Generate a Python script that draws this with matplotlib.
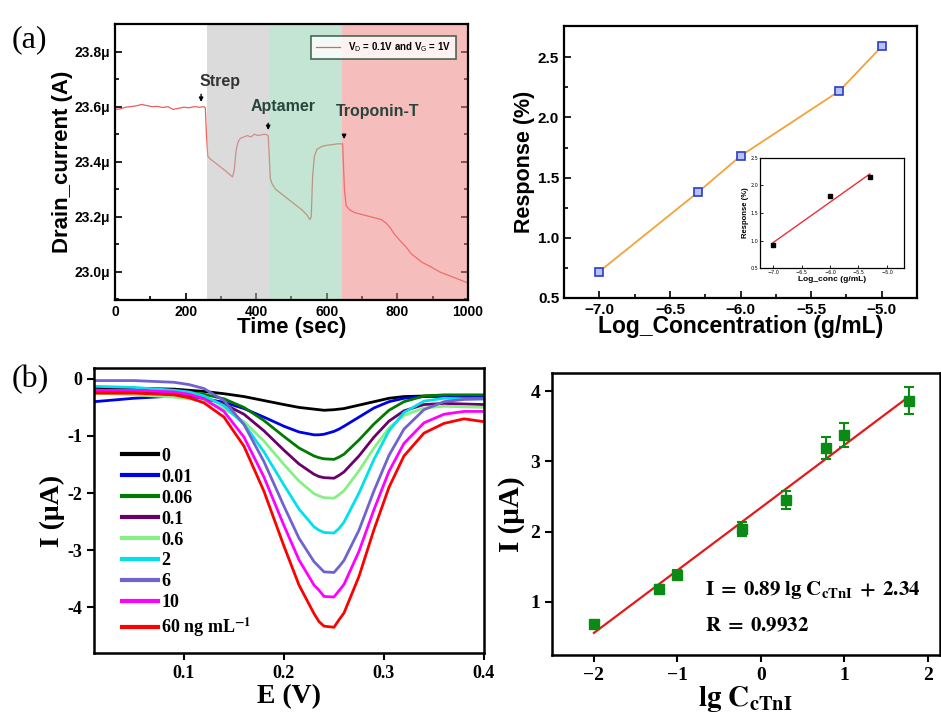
import numpy as np
import matplotlib
matplotlib.use("Agg")
import matplotlib.pyplot as plt

# ---------------- data ----------------
# (a) left: drain current vs time (in uA)
time_s = [0, 15, 30, 45, 60, 75, 90, 105, 120, 135, 150, 165, 180, 195, 210, 225, 240, 252, 256, 259,
          263, 270, 285, 300, 315, 328, 333, 338, 343, 348, 355, 365, 375, 385, 395, 405, 415, 425, 434,
          437, 440, 445, 455, 470, 485, 500, 515, 530, 545, 552, 556, 560, 565, 572, 585, 600, 615, 630,
          645, 647, 650, 655, 665, 680, 695, 710, 725, 740, 755, 770, 780, 790, 800, 810, 825, 840, 855,
          870, 885, 900, 920, 940, 960, 980, 1000]
drain_ua = [23.590, 23.592, 23.598, 23.600, 23.603, 23.608, 23.604, 23.600, 23.601, 23.597, 23.600,
            23.590, 23.594, 23.598, 23.596, 23.600, 23.598, 23.600, 23.595, 23.50, 23.42, 23.41, 23.395,
            23.38, 23.365, 23.350, 23.345, 23.37, 23.44, 23.47, 23.485, 23.49, 23.495, 23.490, 23.500,
            23.495, 23.498, 23.500, 23.495, 23.42, 23.34, 23.32, 23.30, 23.285, 23.27, 23.255, 23.24,
            23.225, 23.205, 23.190, 23.20, 23.35, 23.42, 23.445, 23.455, 23.460, 23.462, 23.465, 23.465,
            23.40, 23.30, 23.24, 23.225, 23.215, 23.21, 23.205, 23.20, 23.195, 23.19, 23.175, 23.16,
            23.14, 23.125, 23.11, 23.09, 23.065, 23.05, 23.035, 23.025, 23.015, 23.000, 22.990, 22.980,
            22.970, 22.960]
span_edges = [261, 436, 643, 1000]
span_colors = ["#b9b9b9", "#8acda9", "#ef7d7d"]
steps = ["Strep", "Aptamer", "Troponin-T"]
step_times = [244, 434, 649]

# (a) right: response vs log concentration
log_conc = [-7.0, -6.3, -6.0, -5.3, -5.0]
response = [0.72, 1.38, 1.68, 2.22, 2.59]
inset_conc = [-7.0, -6.0, -5.3]
inset_resp = [0.92, 1.80, 2.15]

# (b) left: DPV curves
E_v = [0.01, 0.05, 0.09, 0.105, 0.12, 0.14, 0.16, 0.18, 0.20, 0.215, 0.23, 0.235, 0.24, 0.25, 0.255,
       0.26, 0.275, 0.29, 0.305, 0.32, 0.34, 0.36, 0.38, 0.40]
conc_labels = ["0", "0.01", "0.06", "0.1", "0.6", "2", "6", "10", "60 ng mL$^{\\mathbf{-1}}$"]
curve_colors = ["#000000", "#0000e6", "#007a00", "#6b006b", "#86f086", "#00e1ea", "#6f63cf",
                "#ff00ff", "#ff0000"]
i_0 = [-0.15, -0.165, -0.18, -0.20, -0.22, -0.26, -0.31, -0.38, -0.45, -0.50, -0.53, -0.54, -0.55,
       -0.54, -0.53, -0.52, -0.46, -0.40, -0.34, -0.31, -0.30, -0.29, -0.29, -0.30]
i_001 = [-0.40, -0.34, -0.30, -0.32, -0.35, -0.41, -0.52, -0.67, -0.83, -0.93, -0.98, -0.98, -0.97,
         -0.92, -0.88, -0.83, -0.67, -0.51, -0.40, -0.34, -0.31, -0.31, -0.31, -0.31]
i_006 = [-0.20, -0.21, -0.22, -0.24, -0.27, -0.35, -0.50, -0.73, -1.01, -1.21, -1.35, -1.38, -1.40,
         -1.41, -1.37, -1.32, -1.07, -0.79, -0.55, -0.40, -0.30, -0.28, -0.28, -0.28]
i_01 = [-0.20, -0.23, -0.26, -0.29, -0.33, -0.44, -0.62, -0.91, -1.25, -1.49, -1.67, -1.71, -1.73,
        -1.74, -1.69, -1.63, -1.35, -1.02, -0.74, -0.56, -0.45, -0.43, -0.44, -0.45]
i_06 = [-0.25, -0.28, -0.32, -0.35, -0.39, -0.52, -0.75, -1.09, -1.50, -1.79, -2.01, -2.05, -2.08,
        -2.09, -2.03, -1.96, -1.61, -1.21, -0.86, -0.64, -0.51, -0.48, -0.49, -0.50]
i_2 = [-0.13, -0.15, -0.20, -0.23, -0.30, -0.47, -0.79, -1.28, -1.86, -2.28, -2.59, -2.65, -2.69,
       -2.70, -2.62, -2.51, -2.00, -1.41, -0.91, -0.59, -0.39, -0.34, -0.35, -0.35]
i_6 = [-0.03, -0.03, -0.06, -0.10, -0.17, -0.38, -0.80, -1.45, -2.23, -2.79, -3.20, -3.29, -3.38,
       -3.39, -3.29, -3.18, -2.65, -1.96, -1.34, -0.88, -0.54, -0.40, -0.36, -0.35]
i_10 = [-0.20, -0.20, -0.23, -0.27, -0.35, -0.57, -1.02, -1.72, -2.57, -3.17, -3.61, -3.70, -3.81,
        -3.82, -3.71, -3.60, -3.02, -2.29, -1.62, -1.13, -0.77, -0.62, -0.57, -0.57]
i_60 = [-0.25, -0.25, -0.28, -0.33, -0.42, -0.67, -1.18, -1.97, -2.93, -3.61, -4.11, -4.25, -4.33,
        -4.35, -4.22, -4.10, -3.46, -2.64, -1.90, -1.35, -0.95, -0.78, -0.70, -0.75]
dpv_curves = [i_0, i_001, i_006, i_01, i_06, i_2, i_6, i_10, i_60]

# (b) right: calibration
lg_c = [-2.0, -1.22, -1.0, -0.22, 0.3, 0.78, 1.0, 1.78]
peak_i = [0.68, 1.19, 1.39, 2.04, 2.45, 3.19, 3.37, 3.86]
peak_err = [0.03, 0.05, 0.06, 0.10, 0.13, 0.16, 0.17, 0.19]
slope, intercept = 0.89, 2.34

# ---------------- figure ----------------
fig = plt.figure(figsize=(9.41, 7.24), dpi=100)
sans = "Liberation Sans"
serif = "Liberation Serif"

# (a) left
ax1 = fig.add_axes([0.1222, 0.5856, 0.3751, 0.3812])
ax1.plot(time_s, drain_ua, color="#e8605c", lw=0.9, zorder=2,
         label=r"V$_\mathrm{D}$ = 0.1V and V$_\mathrm{G}$ = 1V")
for k in range(3):
    ax1.axvspan(span_edges[k], span_edges[k + 1], color=span_colors[k], alpha=0.5, lw=0, zorder=3)
ax1.set_xlim(0, 1000)
ax1.set_ylim(22.898, 23.9)
ax1.set_xticks(range(0, 1001, 200))
ax1.set_xticks(range(100, 1000, 200), minor=True)
yt = [23.0, 23.2, 23.4, 23.6, 23.8]
ax1.set_yticks(yt)
ax1.set_yticklabels([f"{v:.1f}\u03bc" for v in yt])
ax1.set_yticks([22.9, 23.1, 23.3, 23.5, 23.7, 23.9], minor=True)
ax1.tick_params(which="both", direction="in", right=True, width=1.2)
ax1.tick_params(which="major", length=5)
ax1.tick_params(which="minor", length=3)
for lab in ax1.get_xticklabels() + ax1.get_yticklabels():
    lab.set_fontfamily(sans)
    lab.set_fontweight("bold")
    lab.set_fontsize(10)
ax1.set_xlabel("Time (sec)", fontfamily=sans, fontweight="bold", fontsize=16, labelpad=-1)
ax1.set_ylabel("Drain_current (A)", fontfamily=sans, fontweight="bold", fontsize=16, labelpad=1)
for sp in ax1.spines.values():
    sp.set_linewidth(1.6)
    sp.set_zorder(5)
text_y = [23.675, 23.585, 23.565]
text_x = [240, 385, 627]
arrow_top = [23.655, 23.55, 23.51]
arrow_bot = [23.607, 23.505, 23.472]
text_cols = ["#333333", "#27453a", "#27453a"]
for k in range(3):
    ax1.text(text_x[k], text_y[k], steps[k], fontfamily=sans, fontweight="bold", fontsize=11.5,
             color=text_cols[k], zorder=6)
    ax1.annotate("", xy=(step_times[k], arrow_bot[k]), xytext=(step_times[k], arrow_top[k]),
                 arrowprops=dict(arrowstyle="-|>", color="black", lw=1, mutation_scale=6), zorder=6)
leg1 = ax1.legend(loc="upper right", bbox_to_anchor=(0.98, 0.975),
                  prop={"family": sans, "weight": "bold", "size": 7}, frameon=True, fancybox=False,
                  edgecolor="#1e4a30", handlelength=2.5, borderpad=0.5)
leg1.get_frame().set_linewidth(1.2)
leg1.set_zorder(7)

# (a) right
ax2 = fig.add_axes([0.5994, 0.5884, 0.3751, 0.3757])
ax2.plot(log_conc, response, color="#f5a23a", lw=1.3, marker="s", ms=5.5, mfc="#b8c2f2",
         mec="#2a3cc8", mew=1.2)
ax2.set_xlim(-7.25, -4.75)
ax2.set_ylim(0.5, 2.76)
ax2.set_xticks([-7.0, -6.5, -6.0, -5.5, -5.0])
ax2.set_xticks([-6.75, -6.25, -5.75, -5.25], minor=True)
ax2.set_yticks([0.5, 1.0, 1.5, 2.0, 2.5])
ax2.set_yticks([0.75, 1.25, 1.75, 2.25], minor=True)
ax2.tick_params(which="both", direction="in", width=1.2)
ax2.tick_params(which="major", length=5)
ax2.tick_params(which="minor", length=3)
for lab in ax2.get_xticklabels() + ax2.get_yticklabels():
    lab.set_fontfamily(sans)
    lab.set_fontweight("bold")
    lab.set_fontsize(11)
ax2.set_xlabel("Log_Concentration (g/mL)", fontfamily=sans, fontweight="bold", fontsize=16.5,
               labelpad=-1)
ax2.set_ylabel("Response (%)", fontfamily=sans, fontweight="bold", fontsize=15.5, labelpad=2)
for sp in ax2.spines.values():
    sp.set_linewidth(1.6)

ax3 = fig.add_axes([0.8077, 0.6298, 0.153, 0.152])
fit = np.polyfit(inset_conc, inset_resp, 1)
ax3.plot([inset_conc[0], inset_conc[-1]], np.polyval(fit, [inset_conc[0], inset_conc[-1]]),
         color="#e8303a", lw=1.0)
ax3.plot(inset_conc, inset_resp, "s", color="black", ms=2.5)
ax3.set_xlim(-7.23, -4.7)
ax3.set_ylim(0.5, 2.5)
ax3.set_xticks([-7.0, -6.5, -6.0, -5.5, -5.0])
ax3.set_yticks([0.5, 1.0, 1.5, 2.0, 2.5])
ax3.tick_params(direction="in", length=2, width=0.6, labelsize=3.5, pad=1.5)
ax3.set_xlabel("Log_conc (g/mL)", fontfamily=sans, fontweight="bold", fontsize=6, labelpad=1)
ax3.set_ylabel("Response (%)", fontfamily=sans, fontweight="bold", fontsize=5.5, labelpad=1)
for sp in ax3.spines.values():
    sp.set_linewidth(0.9)

# (b) left
ax4 = fig.add_axes([0.0999, 0.0981, 0.4144, 0.3936])
for curve, col, lab in zip(dpv_curves, curve_colors, conc_labels):
    ax4.plot(E_v, curve, color=col, lw=2.0, label=lab, solid_joinstyle="round")
ax4.set_xlim(0.01, 0.4)
ax4.set_ylim(-4.8, 0.19)
ax4.set_xticks([0.1, 0.2, 0.3, 0.4])
ax4.set_yticks([0, -1, -2, -3, -4])
ax4.set_yticklabels(["0", "-1", "-2", "-3", "-4"])
ax4.tick_params(direction="out", length=5, width=1.5)
for lab in ax4.get_xticklabels() + ax4.get_yticklabels():
    lab.set_fontfamily(serif)
    lab.set_fontweight("bold")
    lab.set_fontsize(13)
ax4.set_xlabel("E (V)", fontfamily=serif, fontweight="bold", fontsize=20, labelpad=2)
ax4.set_ylabel("I (\u03bcA)", fontfamily=serif, fontweight="bold", fontsize=20, labelpad=2)
for sp in ax4.spines.values():
    sp.set_linewidth(1.8)
leg4 = ax4.legend(loc="upper left", bbox_to_anchor=(0.04, 0.765), frameon=False,
                  prop={"family": serif, "weight": "bold", "size": 13}, handlelength=2.0,
                  handletextpad=0.15, labelspacing=0.22, borderpad=0.2)
for t in leg4.get_texts():
    t.set_math_fontfamily("stix")
for ln in leg4.get_lines():
    ln.set_linewidth(3.0)

# (b) right
ax5 = fig.add_axes([0.5866, 0.0953, 0.4119, 0.3895])
fit_x = np.array([lg_c[0], lg_c[-1]])
ax5.plot(fit_x, slope * fit_x + intercept, color="#e41a1a", lw=1.6, zorder=2)
ax5.errorbar(lg_c, peak_i, yerr=peak_err, fmt="s", color="#0b8a16", ms=7, capsize=3.5,
             elinewidth=1.5, capthick=1.5, zorder=3)
ax5.set_xlim(-2.503, 2.144)
ax5.set_ylim(0.246, 4.256)
ax5.set_xticks([-2, -1, 0, 1, 2])
ax5.set_yticks([1, 2, 3, 4])
ax5.tick_params(direction="out", length=5, width=1.5)
for lab in ax5.get_xticklabels() + ax5.get_yticklabels():
    lab.set_fontfamily(serif)
    lab.set_fontweight("bold")
    lab.set_fontsize(14)
ax5.set_xlabel(r"$\mathbf{lg\ C_{cTnI}}$", fontsize=21, labelpad=0, math_fontfamily="stix")
ax5.set_ylabel("I (\u03bcA)", fontfamily=serif, fontweight="bold", fontsize=21, labelpad=4)
ax5.text(-0.67, 1.1, r"$\mathbf{I\;=\;0.89\ lg\ C_{cTnI}\;+\;2.34}$", fontsize=15,
         math_fontfamily="stix")
ax5.text(-0.67, 0.58, r"$\mathbf{R\;=\;0.9932}$", fontsize=15, math_fontfamily="stix")
for sp in ax5.spines.values():
    sp.set_linewidth(1.8)

fig.text(0.012, 0.935, "(a)", fontfamily=serif, fontsize=23)
fig.text(0.012, 0.465, "(b)", fontfamily=serif, fontsize=23)

fig.savefig("out.png", dpi=100)
